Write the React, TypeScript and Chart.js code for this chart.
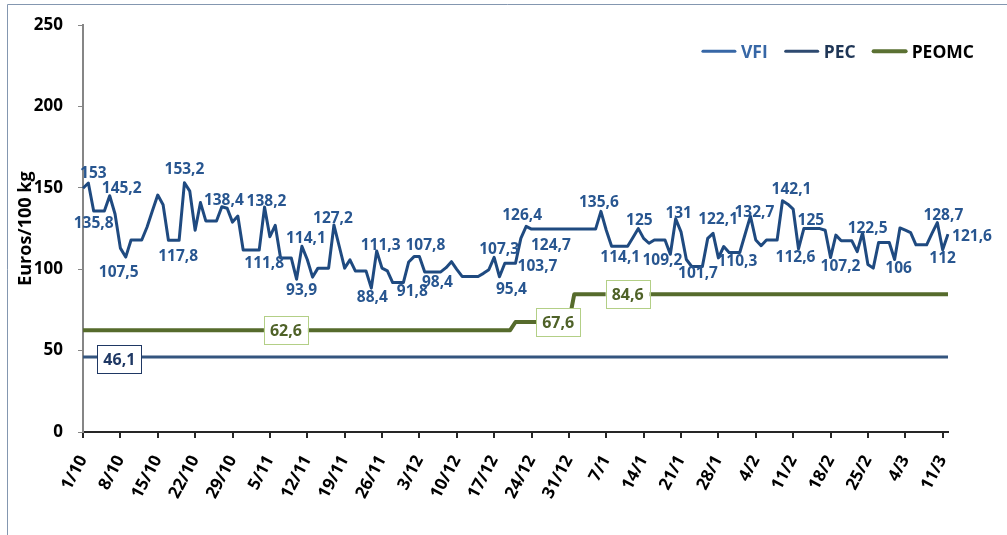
import React, { useEffect, useRef } from 'react';
import { Chart, registerables } from 'chart.js';

Chart.register(...registerables);

// ---------- categories (daily, 1/10 .. 12/3) ----------
const MONTHS = [
  { month: 10, days: 31 },
  { month: 11, days: 30 },
  { month: 12, days: 31 },
  { month: 1, days: 31 },
  { month: 2, days: 28 },
  { month: 3, days: 12 },
];
const DATES: string[] = MONTHS.flatMap(({ month, days }) =>
  Array.from({ length: days }, (_, d) => `${d + 1}/${month}`)
);
const TICK_STEP = 7; // one x label per week

// ---------- series values ----------
const VFI: number[] = [
  149.8, 153, 135.8, 135.8, 135.8, 145.2, 134,
  113, 107.5, 118, 118, 118, 126, 136,
  145.6, 139.6, 117.8, 117.8, 117.8, 153.2, 148,
  124, 141, 129.7, 129.7, 129.7, 138.4, 137.5,
  129, 132.7, 111.8, 111.8, 111.8, 111.8, 138.2,
  120, 127, 107, 107, 107, 93.9, 114.1,
  106, 95.2, 100.7, 100.7, 100.7, 127.2, 114,
  100.7, 105.8, 99, 99, 99, 88.4, 111.3,
  100.7, 99, 91.8, 91.8, 91.8, 104.5, 107.8,
  107.8, 98.4, 98.4, 98.4, 98.4, 101, 104.7,
  100, 95.6, 95.6, 95.6, 95.6, 97.5, 99.7,
  107.3, 95.4, 103.7, 103.7, 103.7, 119, 126.4,
  124.7, 124.7, 124.7, 124.7, 124.7, 124.7, 124.7,
  124.7, 124.7, 124.7, 124.7, 124.7, 124.7, 135.6,
  124, 114.1, 114.1, 114.1, 114.1, 119.5, 125,
  119, 116, 118, 118, 118, 109.2, 131,
  123, 106, 101.7, 101.7, 101.7, 119, 122.1,
  107, 114, 110.3, 110.3, 110.3, 121.5, 132.7,
  118, 114.5, 118, 118, 118, 142.1, 140,
  137, 112.6, 125, 125, 125, 125, 124,
  107.2, 121, 117.5, 117.5, 117.5, 110.8, 122.5,
  103, 100.7, 116.5, 116.5, 116.5, 106, 125.4,
  124, 122.5, 115, 115, 115, 122, 128.7,
  112, 121.6,
];

// step series: value in force from a given date
const PEC_STEPS = [{ from: '1/10', value: 46.1 }];
const PEOMC_STEPS = [
  { from: '1/10', value: 62.6 },
  { from: '21/12', value: 67.6 },
  { from: '1/1', value: 84.6 },
];

const Y_MIN = 0;
const Y_MAX = 250;
const Y_STEP = 50;

// labelled points: [index, dx, dy]
const VFI_LABELS: [number, number, number][] = [
  [1, 5, -11], [2, 0, 11], [5, 12, -8], [8, -7, 14], [18, -1, 15], [19, 0, -14],
  [26, 2, -7], [33, 5, 12], [34, 2, -7], [40, 5, 10], [41, 4, -9], [47, -1, -8],
  [54, 1, 8], [55, 4, -6], [60, 9, 8], [63, 6, -12], [66, 2, 10], [77, 5, -9],
  [78, 12, 12], [81, 22, 2], [83, -4, -12], [88, -2, 15], [97, -2, -10],
  [101, -2, 10], [104, 1, -9], [110, -8, 5], [111, 3, -6], [115, 1, 6],
  [118, 5, -15], [122, 3, 8], [125, 4, -5], [131, 9, -12], [134, -3, 8],
  [135, 7, -9], [140, 10, 8], [146, 5, -5], [152, 4, 8], [160, 6, -8],
  [161, 0, 8], [162, 24, 1],
];
const PEC_LABELS: [number, number, number][] = [[7, -1, 2]];
const PEOMC_LABELS: [number, number, number][] = [[38, 0, 0], [89, 0, 0], [102, 0, 0]];

function expandSteps(steps: { from: string; value: number }[]): number[] {
  const starts = steps.map((s) => DATES.indexOf(s.from));
  return DATES.map((_, i) => {
    let v = steps[0].value;
    starts.forEach((st, k) => {
      if (i >= st) v = steps[k].value;
    });
    return v;
  });
}
const PEC = expandSteps(PEC_STEPS);
const PEOMC = expandSteps(PEOMC_STEPS);

const FONT = "'Open Sans', 'Noto Sans', sans-serif";
const C_VFI = '#1F4A80';
const C_VFI_TEXT = '#285690';
const C_PEC = '#34557F';
const C_PEC_TEXT = '#1F3864';
const C_PEOMC = '#566B2C';
const C_PEOMC_TEXT = '#4F6228';
const C_PEOMC_BOX = '#B3CF86';

const fmt = (v: number) => String(v).replace('.', ',');

const framePlugin = {
  id: 'frame',
  beforeDraw(chart: any) {
    const ctx = chart.ctx;
    ctx.save();
    ctx.strokeStyle = '#8497B0';
    ctx.lineWidth = 1;
    ctx.beginPath();
    ctx.moveTo(7.5, chart.height);
    ctx.lineTo(7.5, 4.5);
    ctx.lineTo(chart.width, 4.5);
    ctx.stroke();
    ctx.restore();
  },
};

const labelsPlugin = {
  id: 'pointLabels',
  afterDatasetsDraw(chart: any) {
    const ctx = chart.ctx;
    ctx.save();
    ctx.textAlign = 'center';
    ctx.textBaseline = 'alphabetic';

    const size = 15.5;
    ctx.font = `bold ${size}px ${FONT}`;
    const vfiMeta = chart.getDatasetMeta(0);
    ctx.fillStyle = C_VFI_TEXT;
    VFI_LABELS.forEach(([i, dx, dy]) => {
      const p = vfiMeta.data[i];
      ctx.fillText(fmt(VFI[i]), p.x + dx, p.y + dy + size * 0.36);
    });

    const bsize = 16;
    ctx.font = `bold ${bsize}px ${FONT}`;
    const boxed = (dsIndex: number, values: number[], list: [number, number, number][], border: string, color: string) => {
      const meta = chart.getDatasetMeta(dsIndex);
      list.forEach(([i, dx, dy]) => {
        const p = meta.data[i];
        const cx = p.x + dx;
        const cy = p.y + dy;
        const w = 44;
        const h = 28;
        ctx.fillStyle = '#FFFFFF';
        ctx.fillRect(cx - w / 2, cy - h / 2, w, h);
        ctx.strokeStyle = border;
        ctx.lineWidth = 1;
        ctx.strokeRect(Math.round(cx - w / 2) + 0.5, Math.round(cy - h / 2) + 0.5, w, h);
        ctx.fillStyle = color;
        ctx.fillText(fmt(values[i]), cx, cy + bsize * 0.36);
      });
    };
    boxed(1, PEC, PEC_LABELS, C_PEC_TEXT, C_PEC_TEXT);
    boxed(2, PEOMC, PEOMC_LABELS, C_PEOMC_BOX, C_PEOMC_TEXT);
    ctx.restore();
  },
};

const LEGEND_ITEMS = [
  { text: 'VFI', line: '#3767A6', color: '#3767A6', width: 3 },
  { text: 'PEC', line: '#2E4A70', color: '#1F3656', width: 3 },
  { text: 'PEOMC', line: '#5B7133', color: '#000000', width: 4 },
];

const legendPlugin = {
  id: 'customLegend',
  afterDraw(chart: any) {
    const ctx = chart.ctx;
    const size = 17.5;
    ctx.save();
    ctx.font = `bold ${size}px ${FONT}`;
    ctx.textAlign = 'left';
    ctx.textBaseline = 'alphabetic';
    const lineLen = 34;
    const gapText = 5;
    const gapItem = 17;
    const widths = LEGEND_ITEMS.map((it) => ctx.measureText(it.text).width);
    const total = widths.reduce((a, w) => a + lineLen + gapText + w, 0) + gapItem * (LEGEND_ITEMS.length - 1);
    let x = chart.chartArea.right + 26 - total;
    const y = chart.chartArea.top + 26;
    LEGEND_ITEMS.forEach((it, k) => {
      ctx.strokeStyle = it.line;
      ctx.lineWidth = it.width;
      ctx.lineCap = 'round';
      ctx.beginPath();
      ctx.moveTo(x + 1, y);
      ctx.lineTo(x + lineLen - 1, y);
      ctx.stroke();
      ctx.fillStyle = it.color;
      ctx.fillText(it.text, x + lineLen + gapText, y + size * 0.36);
      x += lineLen + gapText + widths[k] + gapItem;
    });
    ctx.restore();
  },
};

export default function App() {
  const ref = useRef<HTMLCanvasElement>(null);
  useEffect(() => {
    const canvas = ref.current!;
    const chart = new Chart(canvas, {
      type: 'line',
      data: {
        labels: DATES,
        datasets: [
          {
            label: 'VFI',
            data: VFI,
            borderColor: C_VFI,
            borderWidth: 3,
            pointRadius: 0,
            tension: 0,
            borderJoinStyle: 'round',
            fill: false,
          },
          {
            label: 'PEC',
            data: PEC,
            borderColor: C_PEC,
            borderWidth: 3,
            pointRadius: 0,
            tension: 0,
            fill: false,
          },
          {
            label: 'PEOMC',
            data: PEOMC,
            borderColor: C_PEOMC,
            borderWidth: 4,
            pointRadius: 0,
            tension: 0,
            borderJoinStyle: 'round',
            fill: false,
          },
        ],
      },
      options: {
        animation: false,
        responsive: false,
        devicePixelRatio: 1,
        layout: { padding: { top: 21, right: 59, bottom: 0, left: 0 } },
        plugins: {
          legend: { display: false },
          tooltip: { enabled: false },
        },
        scales: {
          x: {
            type: 'category',
            grid: {
              display: true,
              drawOnChartArea: false,
              drawTicks: true,
              tickLength: 6,
              color: '#262626',
              lineWidth: 2,
            },
            border: { display: true, color: '#262626', width: 2 },
            ticks: {
              autoSkip: false,
              maxRotation: 62,
              minRotation: 62,
              padding: 14,
              color: '#000000',
              font: { family: FONT, size: 17, weight: 'bold' },
              callback: (_v: any, i: number) => (i % TICK_STEP === 0 ? DATES[i] : null),
            },
            afterFit: (s: any) => {
              s.height = 103;
            },
          },
          y: {
            min: Y_MIN,
            max: Y_MAX,
            ticks: {
              stepSize: Y_STEP,
              padding: 15,
              color: '#000000',
              font: { family: FONT, size: 17, weight: 'bold' },
            },
            grid: {
              display: true,
              drawOnChartArea: false,
              drawTicks: true,
              tickLength: 5,
              color: '#868686',
              lineWidth: 1,
            },
            border: { display: true, color: '#868686', width: 2 },
            title: {
              display: true,
              text: 'Euros/100 kg',
              color: '#000000',
              font: { family: FONT, size: 18, weight: 'bold' },
              padding: { top: 15, bottom: 0 },
            },
            afterFit: (s: any) => {
              s.width = 83;
            },
          },
        },
      } as any,
      plugins: [framePlugin, labelsPlugin, legendPlugin],
    });
    return () => chart.destroy();
  }, []);
  return (
    <div style={{ position: 'absolute', left: 0, top: 0, width: 1007, height: 535 }}>
      <canvas ref={ref} width={1007} height={535} style={{ display: 'block' }} />
    </div>
  );
}
